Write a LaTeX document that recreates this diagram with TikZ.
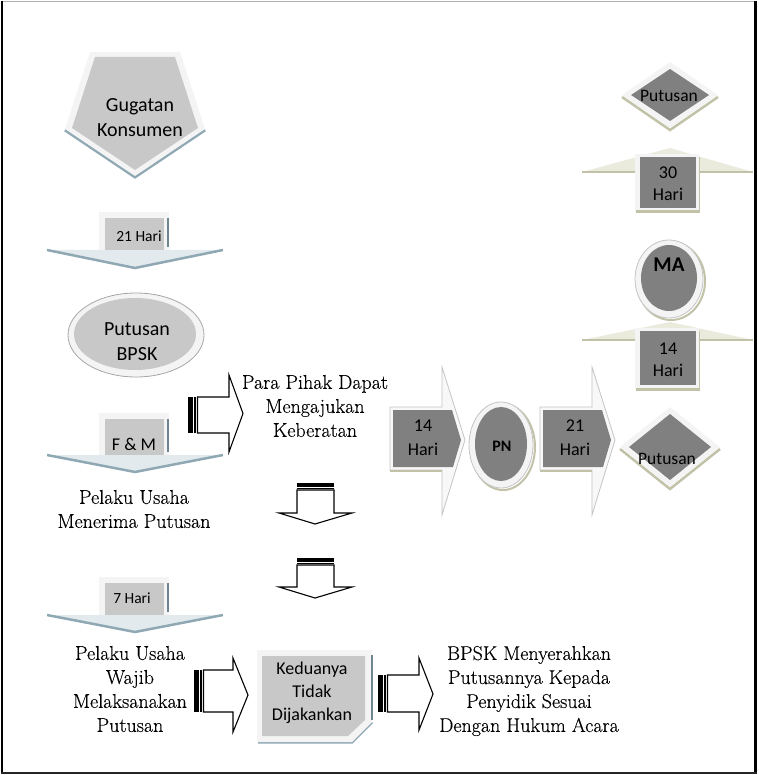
\documentclass[tikz,border=0pt]{standalone}
\usepackage{fontspec}
\newfontfamily\carl{Carlito}
\newfontfamily\romf[FakeBold=0.35]{Latin Modern Roman}
\definecolor{lgrey}{HTML}{C8C8C8}
\definecolor{dgrey}{HTML}{808080}
\definecolor{rimc}{HTML}{F4F4F4}
\definecolor{bshad}{HTML}{8FA8B3}
\definecolor{bwing}{HTML}{E2EAED}
\definecolor{oshad}{HTML}{C2C2A8}
\definecolor{owing}{HTML}{EAEADD}
\definecolor{slate}{HTML}{6F8590}
\definecolor{edgec}{HTML}{C4C4C4}
\tikzset{
  sans/.style 2 args={font={\carl\fontsize{#1}{#2}\selectfont},align=center,inner sep=0pt},
  sansb/.style 2 args={font={\carl\bfseries\fontsize{#1}{#2}\selectfont},align=center,inner sep=0pt},
  rom/.style={font={\romf\fontsize{20}{24}\selectfont},align=center,inner sep=0pt},
  blk/.style={draw=black,fill=white,line width=1.1pt,line join=miter},
  rim/.style={fill=rimc},
}
\newcommand\ldarrow[3]{% stem top, wing line, tip
  \fill[bwing] (47,#2) -- (223,#2) -- (135,#3) -- cycle;
  \draw[bshad,line width=2.5pt] (47,#2) -- (135,#3) -- (223,#2);
  \fill[rim] (99,#1) rectangle (169,#2);
  \fill[lgrey] (105,#1+6) rectangle (164,#2);
  \draw[slate,line width=1.2pt] (168,#1+6) -- (168,#2-3);
}
\newcommand\bdarrow[3]{% top, head base, tip
  \draw[blk] (297,#1+7) -- (297,#2) -- (279,#2) -- (315,#3) -- (352,#2) -- (334,#2) -- (334,#1+7) -- cycle;
  \fill[black] (297,#1) rectangle (334,#1+3.5);
  \fill[black] (297,#1+4.8) rectangle (334,#1+6.2);
}
\newcommand\brarrow[7]{% tail x, shaft top, shaft bottom, head base x, head top, head bottom, tip x
  \draw[blk] (#1+9.5,#2) -- (#4,#2) -- (#4,#5) -- (#7,{(#5+#6)/2}) -- (#4,#6) -- (#4,#3) -- (#1+9.5,#3) -- cycle;
  \fill[black] (#1,#2) rectangle (#1+4.5,#3);
  \fill[black] (#1+6,#2) rectangle (#1+8,#3);
}
\newcommand\chev[1]{%
  \draw[fill=rimc!60!white,draw=edgec,line width=0.8pt] (#1,407) -- (#1+52,407) -- (#1+52,367) -- (#1+75,440) -- (#1+52,515) -- (#1+52,470) -- (#1,470) -- cycle;
  \fill[dgrey] (#1+3,410) -- (#1+62,410) -- (#1+71,440) -- (#1+63,467) -- (#1+3,467) -- cycle;
  \draw[oshad,line width=2pt] (#1,471) -- (#1+52,471);
}
\newcommand\uparr[4]{% apex, wing base, box top, box bottom
  \fill[owing] (582,#2) -- (670,#1) -- (753,#2) -- cycle;
  \draw[oshad,line width=1.5pt] (582,#2) -- (753,#2);
  \fill[rim] (635,#3-3) rectangle (699,#4+4);
  \fill[dgrey] (640,#3) rectangle (696,#4);
  \draw[oshad,line width=3pt] (636,#4+4) -- (700,#4+4);
  \draw[oshad,line width=1.5pt] (699.5,#3) -- (699.5,#4+4);
}
\newcommand\diam[4]{% cx, cy, half width, half height
  \draw[oshad,line width=2.5pt] (#1-#3,#2+2) -- (#1,#2+#4+2) -- (#1+#3,#2+2);
  \fill[rim] (#1-#3,#2) -- (#1,#2-#4) -- (#1+#3,#2) -- (#1,#2+#4) -- cycle;
  \fill[dgrey] (#1-#3+9,#2) -- (#1,#2-#4+7) -- (#1+#3-9,#2) -- (#1,#2+#4-7) -- cycle;
}
\begin{document}
\begin{tikzpicture}[x=1pt,y=-1pt]
\useasboundingbox (0,0) rectangle (758,775);
% frame
\draw[gray!60,line width=1pt] (1,1.5) -- (756,1.5);
\draw[black,line width=2pt] (1.5,1) -- (1.5,773);
\draw[black,line width=3pt] (755.5,1) -- (755.5,773.5);
\draw[black!85,line width=2pt] (1,772.5) -- (757,772.5);

% Gugatan Konsumen pentagon
\draw[bshad,line width=3pt] (65,130) -- (135,177) -- (205,130);
\fill[rim] (90,52) -- (180,52) -- (205,129) -- (135,176) -- (65,129) -- cycle;
\fill[lgrey] (95,57) -- (175,57) -- (198,128) -- (135,170) -- (72,128) -- cycle;
\node[sans={20}{25}] (gug) at (140,118) {Gugatan\\Konsumen};

% 21 Hari
\ldarrow{212}{250}{268}
\node[sans={15.5}{18}] (h21) at (139,236) {21 Hari};

% Putusan BPSK ellipse
\draw[fill=rimc,draw=gray!70,line width=0.8pt] (136,335) ellipse [x radius=68pt,y radius=42pt];
\fill[lgrey] (135,334) ellipse [x radius=61pt,y radius=36pt];
\node[sans={20}{25}] (bpsk) at (137,342) {Putusan\\BPSK};

% F & M
\ldarrow{413}{455}{472}
\node[sans={18}{20}] (fm) at (134,444) {F \& M};

\node[rom] (terima) at (134,509) {Pelaku Usaha\\Menerima Putusan};

% 7 Hari
\ldarrow{577}{615}{632}
\node[sans={15.5}{18}] (h7) at (132,598) {7 Hari};

\node[rom] (wajib) at (130,689) {Pelaku Usaha\\Wajib\\Melaksanakan\\Putusan};

% block arrows
\brarrow{188}{397}{433}{229}{375}{452}{243}
\node[rom] (para) at (315,406) {Para Pihak Dapat\\Mengajukan\\Keberatan};
\bdarrow{483}{513}{524}
\bdarrow{558}{587}{598}
\brarrow{194}{670}{712}{233}{658}{732}{248}
\brarrow{378}{675}{712}{419}{658}{730}{433}

% Keduanya box
\draw[bshad,line width=3pt] (258,742) -- (352,742) -- (372,722);
\fill[rim] (257,650) -- (372,650) -- (372,722) -- (352,742) -- (257,742) -- cycle;
\fill[lgrey] (262,656) -- (365,656) -- (365,720) -- (348,736) -- (262,736) -- cycle;
\draw[slate,line width=1.2pt] (372,655) -- (372,720);
\node[sans={18}{23}] (ked) at (312,693) {Keduanya\\Tidak\\Dijakankan};

\node[rom] (serah) at (529,691) {BPSK Menyerahkan\\Putusannya Kepada\\Penyidik Sesuai\\Dengan Hukum Acara};

% horizontal chain
\chev{390}
\node[sans={18}{24}] (c14) at (423,438) {14\\Hari};
\draw[oshad,line width=2pt] (503,447) ellipse [x radius=32pt,y radius=43pt];
\draw[fill=rimc,draw=edgec,line width=0.8pt] (501,445) ellipse [x radius=32pt,y radius=43pt];
\fill[dgrey] (501,444) ellipse [x radius=26pt,y radius=37pt];
\node[sansb={16}{18}] (pn) at (502,446) {PN};
\chev{540}
\node[sans={18}{24}] (c21) at (575,438) {21\\Hari};
\diam{670}{447}{50}{40}
\node[sans={17.5}{20}] (put1) at (667,459) {Putusan};

% right column
\uparr{322}{340}{331}{385}
\node[sans={18}{22}] (h14) at (668,360) {14\\Hari};
\draw[oshad,line width=2pt] (671,281) ellipse [x radius=34pt,y radius=39pt];
\draw[fill=rimc,draw=edgec,line width=0.8pt] (669,279) ellipse [x radius=34pt,y radius=39pt];
\fill[dgrey] (669,278) ellipse [x radius=28pt,y radius=33pt];
\node[sansb={21}{24}] (ma) at (669,265) {MA};
\uparr{148}{172}{157}{208}
\node[sans={18}{22}] (h30) at (668,184) {30\\Hari};
\diam{670}{95}{48}{33}
\node[sans={17.5}{20}] (put2) at (669,96) {Putusan};
\end{tikzpicture}
\end{document}
